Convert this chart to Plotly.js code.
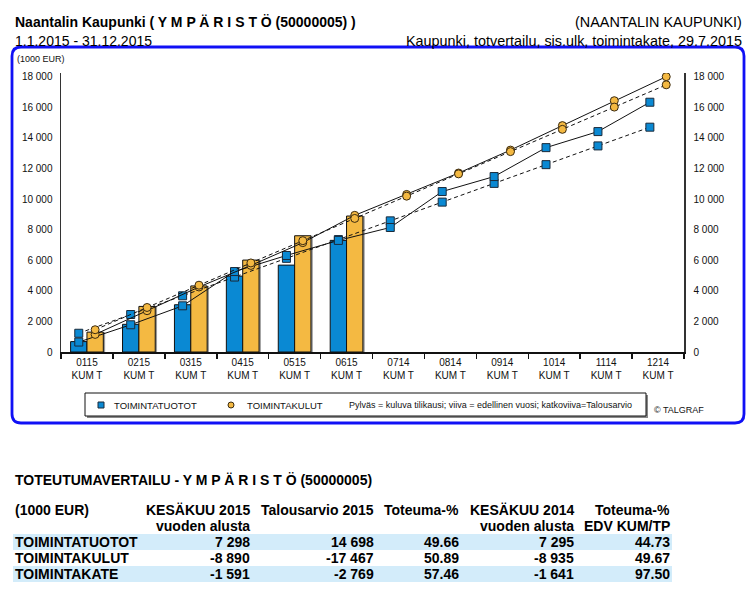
<!DOCTYPE html>
<html><head><meta charset="utf-8">
<script src="https://cdn.plot.ly/plotly-3.0.1.min.js"></script>
<style>body{margin:0;background:#fff}</style>
</head><body><div id="chart" style="width:756px;height:597px"></div>
<script>
// ---- data ----
const months = ['0115','0215','0315','0415','0515','0615','0714','0814','0914','1014','1114','1214'];
const monthSuffix = 'KUM T';
const tuototCurrent = [680, 1810, 3090, 4960, 5680, 7298];
const kulutCurrent  = [1300, 2980, 4320, 6010, 7600, 8890];
const tuototPrev    = [650, 1780, 3020, 5260, 6310, 7295, 8140, 10490, 11470, 13360, 14410, 16330];
const tuototBudget  = [1225, 2450, 3675, 4899, 6124, 7349, 8574, 9799, 11024, 12248, 13473, 14698];
const kulutPrev     = [1150, 2700, 4250, 5660, 7150, 8935, 10300, 11700, 13200, 14800, 16430, 18000];
const kulutBudget   = [1456, 2911, 4367, 5822, 7278, 8733, 10189, 11645, 13100, 14556, 16011, 17467];

const rowLabels   = ['TOIMINTATUOTOT','TOIMINTAKULUT','TOIMINTAKATE'];
const colCur2015  = [7298, -8890, -1591];
const colBudget   = [14698, -17467, -2769];
const colToteuma  = [49.66, 50.89, 57.46];
const colCur2014  = [7295, -8935, -1641];
const colEdv      = [44.73, 49.67, 97.50];
const headers1 = ['(1000 EUR)','KESÄKUU 2015','Talousarvio 2015','Toteuma-%','KESÄKUU 2014','Toteuma-%'];
const headers2 = ['','vuoden alusta','','','vuoden alusta','EDV KUM/TP'];

// ---- layout geometry (pixels) ----
const W = 756, H = 597;
const L = 61, R = 684, T = 73, B = 352;
const pw = R - L, ph = B - T;
const px = x => (x - L) / pw;
const py = y => (B - y) / ph;

const NARROW = '"Liberation Sans Narrow", "Arial Narrow", "Liberation Sans", Arial, sans-serif';
const ARIAL = '"Liberation Sans", Arial, sans-serif';
const BLUE = '#0a89d3', ORANGE = '#f4b942';
const FS = 14;

const idx = months.map((m, i) => i);
const cur = idx.slice(0, tuototCurrent.length);
const fmt = v => { const s = Math.abs(Math.round(v)).toString().replace(/\B(?=(\d{3})+(?!\d))/g, ' '); return (v < 0 ? '-' : '') + s; };

const BW = 0.315;
const traces = [
  {type:'bar', x: cur, y: tuototCurrent, width: BW, offset: -BW + 0.035, marker:{color:'#9a9a9a', line:{width:0}}, hoverinfo:'skip', showlegend:false},
  {type:'bar', x: cur, y: kulutCurrent, width: BW, offset: 0.035, marker:{color:'#9a9a9a', line:{width:0}}, hoverinfo:'skip', showlegend:false},
  {type:'bar', x: cur, y: tuototCurrent, width: BW, offset: -BW, marker:{color:BLUE, line:{color:'#111', width:1}}, name:'TOIMINTATUOTOT', showlegend:false},
  {type:'bar', x: cur, y: kulutCurrent, width: BW, offset: 0, marker:{color:ORANGE, line:{color:'#111', width:1}}, name:'TOIMINTAKULUT', showlegend:false},
  {type:'scatter', mode:'lines+markers', x: idx.map(i => i - BW/2), y: tuototBudget, line:{color:'#111', width:1, dash:'4px,3px'},
   marker:{symbol:'square', size:8, color:BLUE, line:{color:'#1a2a3a', width:1}}, showlegend:false},
  {type:'scatter', mode:'lines+markers', x: idx.map(i => i - BW/2), y: tuototPrev, line:{color:'#111', width:1},
   marker:{symbol:'square', size:8, color:BLUE, line:{color:'#1a2a3a', width:1}}, showlegend:false},
  {type:'scatter', mode:'lines+markers', x: idx.map(i => i + BW/2), y: kulutBudget, line:{color:'#111', width:1, dash:'4px,3px'},
   marker:{symbol:'circle', size:8, color:ORANGE, line:{color:'#3a2a10', width:1}}, showlegend:false, yaxis:'y2'},
  {type:'scatter', mode:'lines+markers', x: idx.map(i => i + BW/2), y: kulutPrev, line:{color:'#111', width:1},
   marker:{symbol:'circle', size:8, color:ORANGE, line:{color:'#3a2a10', width:1}}, showlegend:false}
];

const ann = [];
const shapes = [];
function txt(x, y, text, opts) {
  ann.push(Object.assign({xref:'paper', yref:'paper', x: px(x), y: py(y), text, showarrow:false,
    xanchor:'left', yanchor:'middle', font:{family:NARROW, size:FS, color:'#000'}}, opts || {}));
}
const nf = {family:NARROW, size:FS, color:'#000'};
const nfr = {family:NARROW, size:14.4, color:'#000'};
// header
txt(13, 22, '<b>Naantalin Kaupunki ( Y M P Ä R I S T Ö (50000005) )</b>', {font:nf});
txt(13, 41, '1.1.2015 - 31.12.2015', {font:nf});
txt(744, 22, '(NAANTALIN KAUPUNKI)', {xanchor:'right', font:nfr});
txt(744, 41, 'Kaupunki, totvertailu, sis.ulk, toimintakate, 29.7.2015', {xanchor:'right', font:nfr});
// unit
txt(15, 59, '(1000 EUR)', {font:{family:ARIAL, size:9, color:'#111'}});

// frame (rounded)
(function(){
  const x0 = px(12), x1 = px(744), y0 = py(423), y1 = py(47);
  const rx = 9 / pw, ry = 9 / ph;
  const p = `M ${x0+rx},${y1} L ${x1-rx},${y1} Q ${x1},${y1} ${x1},${y1-ry} L ${x1},${y0+ry} Q ${x1},${y0} ${x1-rx},${y0} L ${x0+rx},${y0} Q ${x0},${y0} ${x0},${y0+ry} L ${x0},${y1-ry} Q ${x0},${y1} ${x0+rx},${y1} Z`;
  shapes.push({type:'path', xref:'paper', yref:'paper', path:p, line:{color:'#1010f5', width:2.8}, layer:'below'});
})();

// legend box
shapes.push({type:'rect', xref:'paper', yref:'paper', x0:px(87), x1:px(648), y0:py(418), y1:py(395), line:{width:0}, fillcolor:'#888'});
shapes.push({type:'rect', xref:'paper', yref:'paper', x0:px(85), x1:px(646), y0:py(416), y1:py(393), line:{color:'#111', width:1}, fillcolor:'#fff'});
shapes.push({type:'rect', xref:'paper', yref:'paper', x0:px(98), x1:px(104), y0:py(408), y1:py(402), line:{color:'#1a2a3a', width:1}, fillcolor:BLUE});
shapes.push({type:'circle', xref:'paper', yref:'paper', x0:px(228), x1:px(234), y0:py(408), y1:py(402), line:{color:'#3a2a10', width:1}, fillcolor:ORANGE});
txt(112, 405, 'TOIMINTATUOTOT', {font:{family:ARIAL, size:9.5, color:'#111'}});
txt(245, 405, 'TOIMINTAKULUT', {font:{family:ARIAL, size:9.5, color:'#111'}});
txt(347, 405, 'Pylväs = kuluva tilikausi; viiva = edellinen vuosi; katkoviiva=Talousarvio', {font:{family:ARIAL, size:9, color:'#111'}});
txt(652, 410, '© TALGRAF', {font:{family:ARIAL, size:9, color:'#111'}});

// table
txt(13, 480, '<b>TOTEUTUMAVERTAILU - Y M P Ä R I S T Ö (50000005)</b>', {font:nf});
const colRight = [null, 252, 376, 461, 576, 672];
headers1.forEach((h, c) => {
  if (c === 0) txt(13, 510, '<b>' + h + '</b>', {font:nf});
  else txt(colRight[c], 510, '<b>' + h + '</b>', {xanchor:'right', font:nf});
});
headers2.forEach((h, c) => { if (h) txt(colRight[c], 526, '<b>' + h + '</b>', {xanchor:'right', font:nf}); });
rowLabels.forEach((lab, r) => {
  const y = 542 + r * 16;
  if (r % 2 === 0) shapes.push({type:'rect', xref:'paper', yref:'paper', x0:px(13), x1:px(672), y0:py(y + 8), y1:py(y - 8), line:{width:0}, fillcolor:'#d3ecfa', layer:'below'});
  const vals = [fmt(colCur2015[r]), fmt(colBudget[r]), colToteuma[r].toFixed(2), fmt(colCur2014[r]), colEdv[r].toFixed(2)];
  txt(13, y, '<b>' + lab + '</b>', {font:nf});
  vals.forEach((v, c) => txt(colRight[c + 1], y, '<b>' + v + '</b>', {xanchor:'right', font:nf}));
});

const layout = {
  width: W, height: H, margin:{l:L, r:W - R, t:T, b:H - B, pad:0},
  paper_bgcolor:'#fff', plot_bgcolor:'rgba(0,0,0,0)',
  barmode:'overlay', separators:'. ', showlegend:false,
  font:{family:ARIAL, size:10, color:'#111'},
  xaxis:{range:[-0.5, 11.5], tickmode:'array', tickvals: idx, ticktext: months.map(m => m + '<br>' + monthSuffix),
    ticks:'', showline:true, linecolor:'#111', linewidth:1.5, showgrid:false, zeroline:false, fixedrange:true,
    tickfont:{family:ARIAL, size:10, color:'#111'},
    minor:{tickmode:'array', tickvals: idx.map(i => i - 0.5).concat([11.5]), ticks:'outside', ticklen:5, tickwidth:1.5, tickcolor:'#111'}},
  yaxis:{range:[0, 18240], tick0:0, dtick:2000, tickformat:',d', ticks:'', showline:true, linecolor:'#333', linewidth:1.5,
    showgrid:false, zeroline:false, ticklabelstandoff:5, tickfont:{family:ARIAL, size:10, color:'#111'}},
  yaxis2:{overlaying:'y', side:'right', range:[0, 18240], tick0:0, dtick:2000, tickformat:',d', ticks:'', showline:true,
    linecolor:'#333', linewidth:1.5, showgrid:false, zeroline:false, ticklabelstandoff:6, tickfont:{family:ARIAL, size:10, color:'#111'}},
  annotations: ann, shapes: shapes
};
Plotly.newPlot('chart', traces, layout, {displayModeBar:false, staticPlot:true});
</script></body></html>
